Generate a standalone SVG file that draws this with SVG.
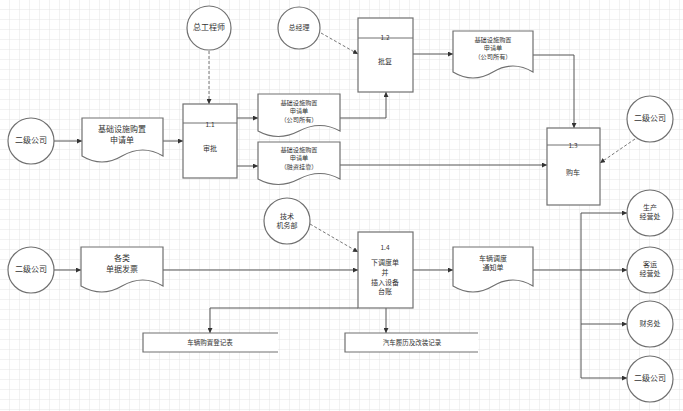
<svg xmlns="http://www.w3.org/2000/svg" width="683" height="411" viewBox="0 0 683 411">
<defs>
<pattern id="grid" width="10" height="10" patternUnits="userSpaceOnUse">
<path d="M10,0 V10 M0,10 H10" fill="none" stroke="#e4e4e4" stroke-width="1"/>
</pattern>
<marker id="arr" viewBox="0 0 6 6" refX="6" refY="3" markerWidth="5" markerHeight="5" markerUnits="userSpaceOnUse" orient="auto">
<path d="M0,0 L6,3 L0,6 z" fill="#333"/>
</marker>
<style>
.shape{fill:#fff;stroke:#707070;stroke-width:1.2}
.div{stroke:#707070;stroke-width:1;fill:none}
.ln{fill:none;stroke:#555;stroke-width:1}
.dash{fill:none;stroke:#777;stroke-width:1;stroke-dasharray:3,2}
text{font-family:"Noto Sans CJK SC","Liberation Sans",sans-serif;fill:#333;text-anchor:middle;dominant-baseline:middle}
.t8{font-size:8px}
.t7{font-size:7px}
.t65{font-size:6.5px}
.t6{font-size:6.2px}
</style>
</defs>
<rect width="683" height="411" fill="#fff"/>
<rect width="683" height="411" fill="url(#grid)"/>

<g id="connectors">
<path class="ln" d="M54,141 H82" marker-end="url(#arr)"/>
<path class="ln" d="M163,141 H183" marker-end="url(#arr)"/>
<path class="dash" d="M209,51 V104" marker-end="url(#arr)"/>
<path class="ln" d="M237,118 H258" marker-end="url(#arr)"/>
<path class="ln" d="M237,166 H258" marker-end="url(#arr)"/>
<path class="ln" d="M340,118 H386 V92" marker-end="url(#arr)"/>
<path class="dash" d="M321,33 L358,54" marker-end="url(#arr)"/>
<path class="ln" d="M413,54 H453" marker-end="url(#arr)"/>
<path class="ln" d="M533,55 H574 V128" marker-end="url(#arr)"/>
<path class="ln" d="M340,165 H547" marker-end="url(#arr)"/>
<path class="dash" d="M635,139 L600,163" marker-end="url(#arr)"/>
<path class="ln" d="M54,270 H81" marker-end="url(#arr)"/>
<path class="ln" d="M163,270 H358" marker-end="url(#arr)"/>
<path class="ln" d="M358,270 H453" marker-end="url(#arr)"/>
<path class="dash" d="M310,224 L358,252" marker-end="url(#arr)"/>
<path class="ln" d="M358,308 H210 V333" marker-end="url(#arr)"/>
<path class="ln" d="M386,308 V333" marker-end="url(#arr)"/>
<path class="ln" d="M533,270 H581"/>
<path class="ln" d="M581,213 V378"/>
<path class="ln" d="M581,213 H627" marker-end="url(#arr)"/>
<path class="ln" d="M581,270 H627" marker-end="url(#arr)"/>
<path class="ln" d="M581,324 H627" marker-end="url(#arr)"/>
<path class="ln" d="M581,378 H627" marker-end="url(#arr)"/>
</g>

<g id="ext1">
<circle class="shape" cx="31" cy="141" r="23"/>
<text class="t8" x="31" y="141">二级公司</text>
</g>
<g id="doc1">
<path class="shape" d="M82,118 H163 V156 Q143,144 122,156 Q102,168 82,156 Z"/>
<text class="t8" x="122" y="130">基础设施购置</text>
<text class="t8" x="122" y="141">申请单</text>
</g>
<g id="eng">
<circle class="shape" cx="209" cy="28" r="22"/>
<text class="t8" x="209" y="28">总工程师</text>
</g>
<g id="p11">
<rect class="shape" x="183" y="104" width="54" height="74"/>
<path class="div" d="M183,123 H237"/>
<text class="t65" x="210" y="125">1.1</text>
<text class="t7" x="210" y="149">审批</text>
</g>
<g id="doc2">
<path class="shape" d="M258,94 H340 V131 Q320,120 299,131 Q278,142 258,131 Z"/>
<text class="t6" x="299" y="103">基础设施购置</text>
<text class="t6" x="299" y="111.5">申请单</text>
<text class="t6" x="299" y="120">（公司所有）</text>
</g>
<g id="doc3">
<path class="shape" d="M258,142 H340 V179 Q320,168 299,179 Q278,190 258,179 Z"/>
<text class="t6" x="299" y="150">基础设施购置</text>
<text class="t6" x="299" y="158.5">申请单</text>
<text class="t6" x="299" y="167">（融资挂靠）</text>
</g>
<g id="gm">
<circle class="shape" cx="299" cy="28" r="21"/>
<text class="t7" x="299" y="28">总经理</text>
</g>
<g id="p12">
<rect class="shape" x="358" y="18" width="55" height="74"/>
<path class="div" d="M358,38 H413"/>
<text class="t65" x="385" y="38">1.2</text>
<text class="t7" x="385" y="62">批复</text>
</g>
<g id="doc4">
<path class="shape" d="M453,31 H533 V72 Q513,60 493,72 Q473,84 453,72 Z"/>
<text class="t6" x="493" y="40">基础设施购置</text>
<text class="t6" x="493" y="48.5">申请单</text>
<text class="t6" x="493" y="57">（公司所有）</text>
</g>
<g id="p13">
<rect class="shape" x="547" y="128" width="53" height="77"/>
<path class="div" d="M547,145 H600"/>
<text class="t65" x="573" y="146">1.3</text>
<text class="t7" x="573" y="173">购车</text>
</g>
<g id="ext2">
<circle class="shape" cx="650" cy="119" r="23"/>
<text class="t8" x="650" y="119">二级公司</text>
</g>
<g id="ext3">
<circle class="shape" cx="31" cy="270" r="23"/>
<text class="t8" x="31" y="270">二级公司</text>
</g>
<g id="doc5">
<path class="shape" d="M81,247 H163 V286 Q143,274 122,286 Q102,298 81,286 Z"/>
<text class="t8" x="122" y="259">各类</text>
<text class="t8" x="122" y="270">单据发票</text>
</g>
<g id="tech">
<circle class="shape" cx="287" cy="221" r="23"/>
<text class="t7" x="287" y="217">技术</text>
<text class="t7" x="287" y="226">机务部</text>
</g>
<g id="p14">
<rect class="shape" x="358" y="232" width="55" height="76"/>
<text class="t65" x="385" y="248">1.4</text>
<text class="t7" x="385" y="263">下调度单</text>
<text class="t7" x="385" y="273">并</text>
<text class="t7" x="385" y="283">插入设备</text>
<text class="t7" x="385" y="292">台账</text>
</g>
<g id="doc6">
<path class="shape" d="M453,247 H533 V286 Q513,274 493,286 Q473,298 453,286 Z"/>
<text class="t7" x="493" y="259.5">车辆调度</text>
<text class="t7" x="493" y="268.5">通知单</text>
</g>
<g id="store1">
<path class="shape" d="M278,333 H143 V352 H278" fill="#fff"/>
<text class="t65" x="210" y="343">车辆购置登记表</text>
</g>
<g id="store2">
<path class="shape" d="M478,333 H345 V352 H478" fill="#fff"/>
<text class="t65" x="412" y="343">汽车履历及改装记录</text>
</g>
<g id="c1">
<circle class="shape" cx="650" cy="213" r="23"/>
<text class="t7" x="650" y="208.5">生产</text>
<text class="t7" x="650" y="217.5">经营处</text>
</g>
<g id="c2">
<circle class="shape" cx="650" cy="270" r="23"/>
<text class="t7" x="650" y="265.5">客运</text>
<text class="t7" x="650" y="274.5">经营处</text>
</g>
<g id="c3">
<circle class="shape" cx="650" cy="324" r="23"/>
<text class="t7" x="650" y="324">财务处</text>
</g>
<g id="c4">
<circle class="shape" cx="650" cy="379" r="23"/>
<text class="t8" x="650" y="379">二级公司</text>
</g>
</svg>
